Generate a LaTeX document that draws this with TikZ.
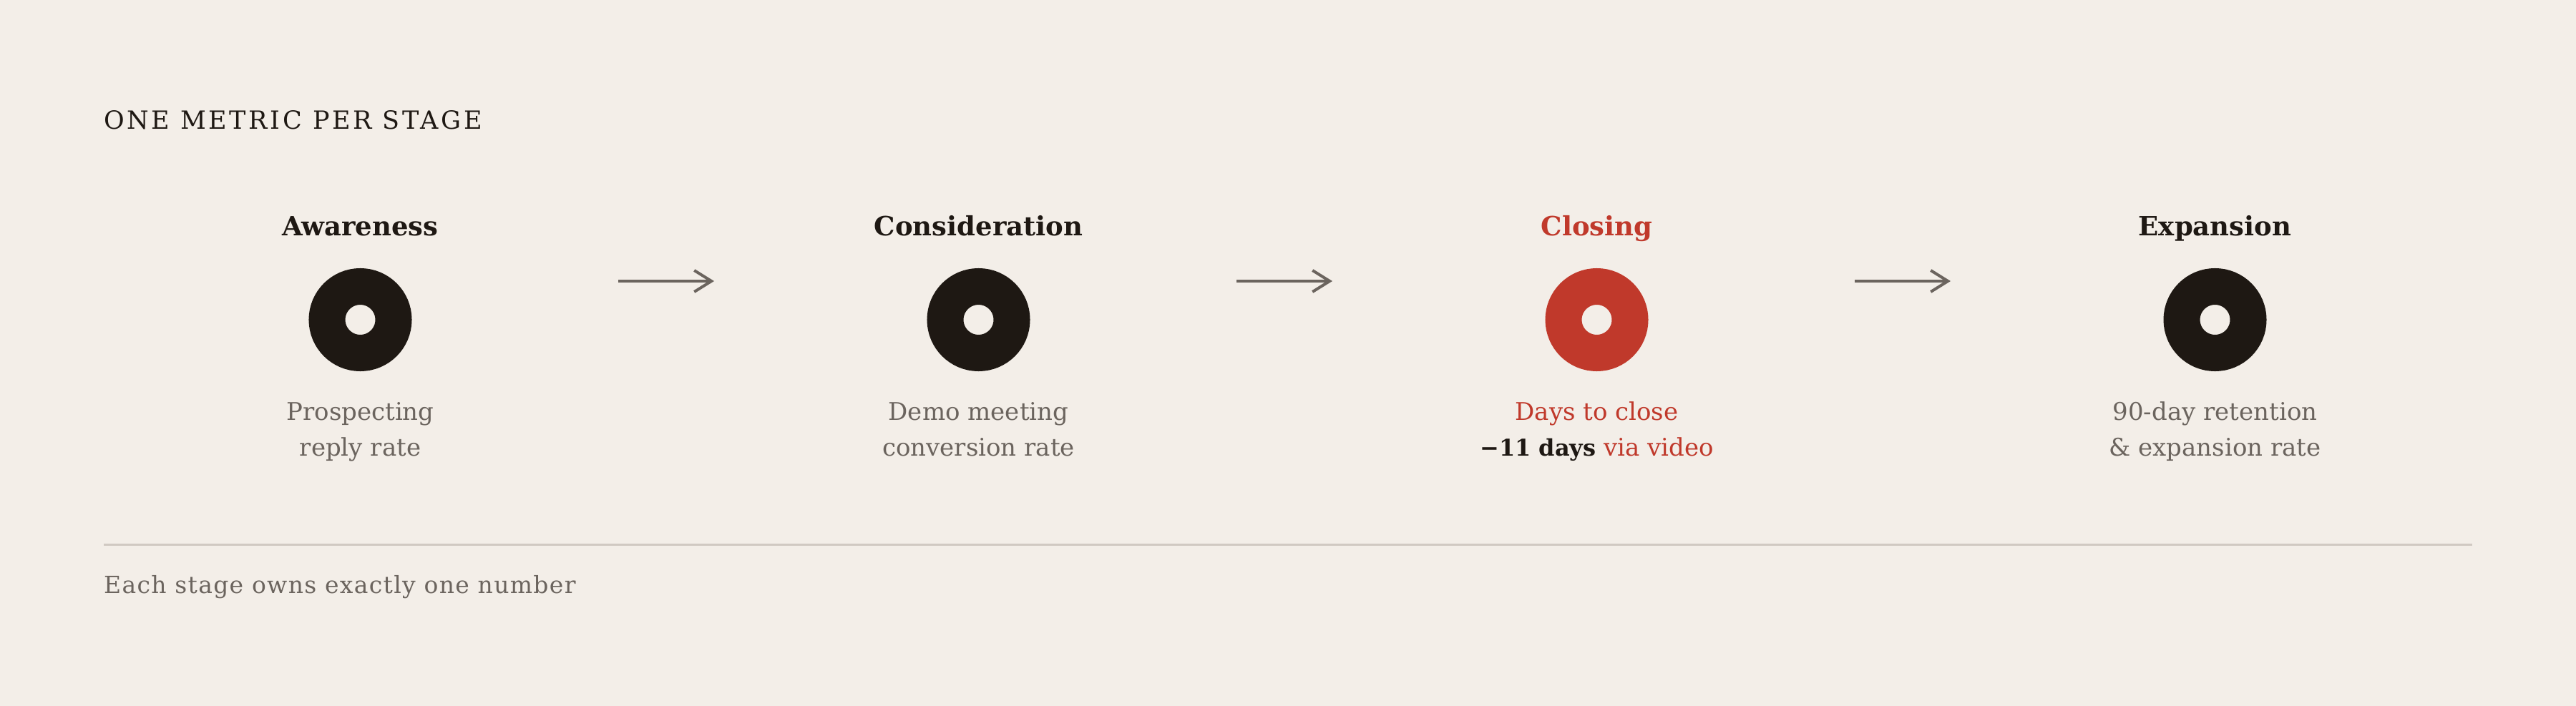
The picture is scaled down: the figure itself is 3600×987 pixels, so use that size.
\documentclass[tikz,border=0pt]{standalone}
\usepackage{fontspec}
\setmainfont{DejaVu Serif}
\newfontfamily\titlefont[LetterSpace=10.5]{DejaVu Serif}
\newfontfamily\footfont[LetterSpace=4]{DejaVu Serif}
\usetikzlibrary{arrows.meta}
\definecolor{bg}{HTML}{F3EEE8}
\definecolor{ink}{HTML}{1E1813}
\definecolor{accent}{HTML}{C0392B}
\definecolor{muted}{HTML}{6B645E}
\definecolor{rulec}{HTML}{D0C9C2}
\tikzset{
  heading/.style={anchor=base, inner sep=0pt, text=ink, font=\fontsize{37}{44}\selectfont\bfseries},
  sub/.style={anchor=base, inner sep=0pt, text=muted, font=\fontsize{34}{40}\selectfont},
  ring/.style={circle, inner sep=0pt, minimum size=93pt, line width=51pt, draw=ink, fill=bg},
  flow/.style={draw=muted, line width=4pt, -{Straight Barb[length=24pt,width=30pt,line width=4pt]}},
}
\begin{document}
\begin{tikzpicture}[x=1pt,y=-1pt]
\path[use as bounding box, fill=bg] (0,0) rectangle (3600,987);
\node[anchor=base west, inner sep=0pt, text=ink, font=\fontsize{35}{42}\selectfont\titlefont] (title) at (145,181) {ONE METRIC PER STAGE};
% stages
\node[heading] (h1) at (503.5,329) {Awareness};
\node[heading] (h2) at (1367.5,329) {Consideration};
\node[heading, text=accent] (h3) at (2231.5,329) {Closing};
\node[heading] (h4) at (3095.5,329) {Expansion};
\node[ring] (c1) at (503.5,447) {};
\node[ring] (c2) at (1367.5,447) {};
\node[ring, draw=accent] (c3) at (2231.5,447) {};
\node[ring] (c4) at (3095.5,447) {};
\node[sub] (s1a) at (503.5,587) {Prospecting};
\node[sub] (s1b) at (503.5,637) {reply rate};
\node[sub] (s2a) at (1367.5,587) {Demo meeting};
\node[sub] (s2b) at (1367.5,637) {conversion rate};
\node[sub, text=accent] (s3a) at (2231.5,587) {Days to close};
\node[sub, text=accent] (s3b) at (2231.5,637) {{\fontsize{32}{40}\selectfont\bfseries\color{ink}−11 days} via video};
\node[sub] (s4a) at (3095.5,587) {90-day retention};
\node[sub] (s4b) at (3095.5,637) {\& expansion rate};
% arrows
\coordinate (a1s) at (864,393); \coordinate (a1e) at (998,393);
\coordinate (a2s) at (1728,393); \coordinate (a2e) at (1862,393);
\coordinate (a3s) at (2592,393); \coordinate (a3e) at (2726,393);
\draw[flow] (a1s) -- (a1e);
\draw[flow] (a2s) -- (a2e);
\draw[flow] (a3s) -- (a3e);
% rule and footer
\coordinate (r1) at (145,761); \coordinate (r2) at (3455,761);
\draw[rulec, line width=3pt] (r1) -- (r2);
\node[anchor=base west, inner sep=0pt, text=muted, font=\fontsize{33}{40}\selectfont\footfont] (foot) at (145,829) {Each stage owns exactly one number};
\end{tikzpicture}
\end{document}
